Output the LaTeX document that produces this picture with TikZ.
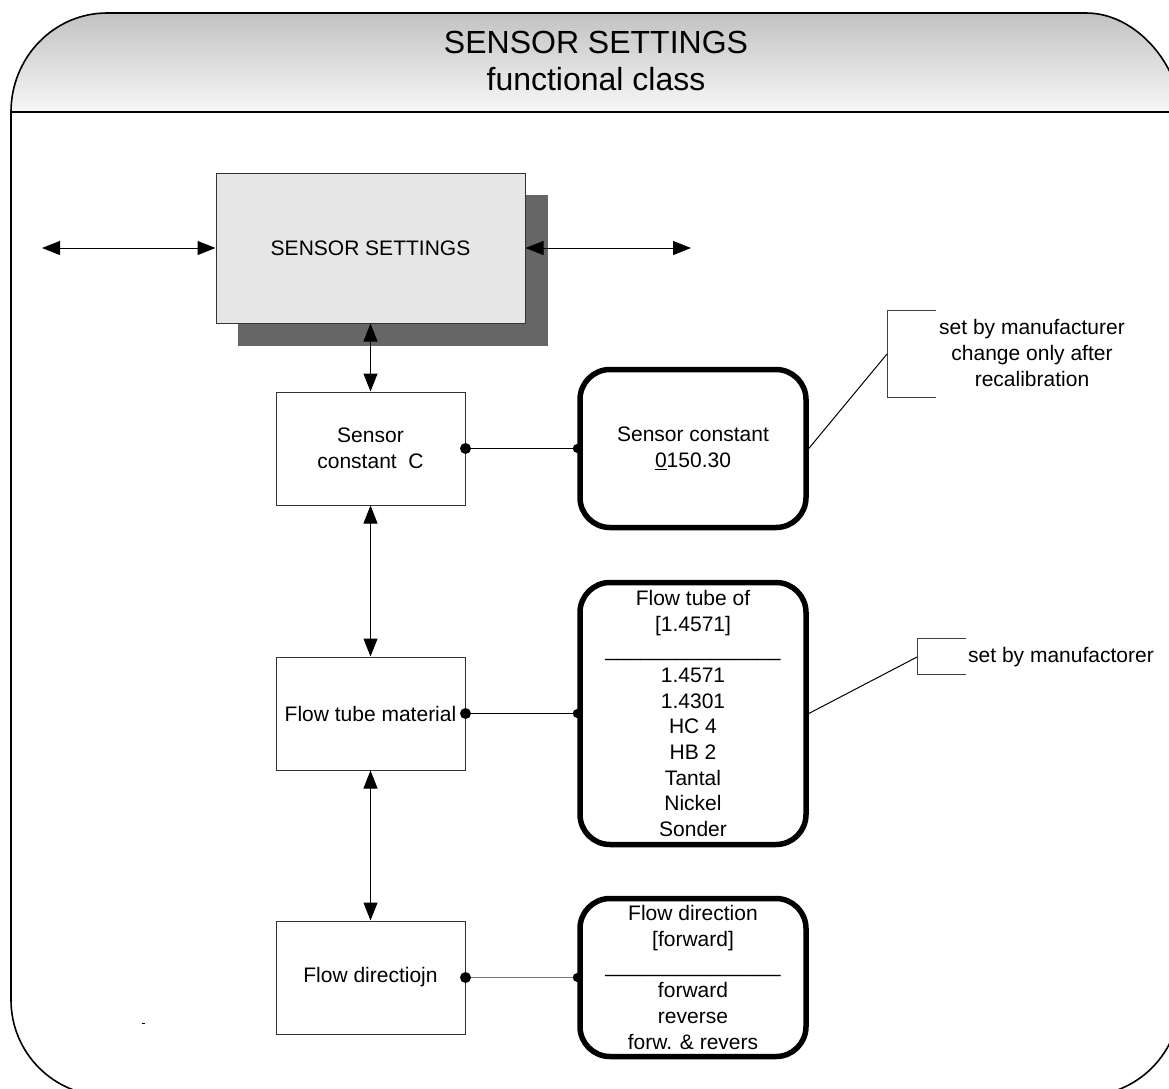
\documentclass[tikz,border=0pt]{standalone}
\usepackage{fontspec}
\setmainfont{Liberation Sans}
\usetikzlibrary{arrows.meta}
\definecolor{shadowc}{HTML}{666666}
\definecolor{boxfill}{HTML}{E6E6E6}
\begin{document}
\begin{tikzpicture}[x=1pt,y=-1pt,
  txt/.style={font=\fontsize{21}{25.7}\selectfont, align=center},
  sqbox/.style={draw=black!80, line width=1pt, fill=white, minimum width=189pt, minimum height=113pt, inner sep=0pt, txt},
  rbox/.style={draw=black, line width=5.5pt, rounded corners=30pt, fill=white, minimum width=226pt, inner sep=0pt, txt},
  dbl/.style={{Triangle[length=18pt,width=14pt]}-{Triangle[length=18pt,width=14pt]}, line width=1pt},
  dotc/.style={fill=black},
  link/.style={line width=1pt},
  note/.style={draw=black!75, line width=1pt},
  frame/.style={draw=black, line width=1.6pt}]
\useasboundingbox (0,0) rectangle (1169,1088);
\begin{scope}
\clip (0,0) rectangle (1169,1088);
% header
\path[top color=black!24, bottom color=black!3]
  (11,112) .. controls (11,57.3) and (54,13) .. (107,13) -- (1086,13)
  .. controls (1137.9,13) and (1180,67.7) .. (1180,112) -- cycle;
\draw[frame] (11,112) .. controls (11,57.3) and (54,13) .. (107,13) -- (1086,13)
  .. controls (1137.9,13) and (1180,67.7) .. (1180,112);
\draw[frame] (11,112) -- (1180,112);
% body outline
\draw[frame] (11,112) -- (11,1000) .. controls (11,1053) and (54,1096) .. (107,1096)
  -- (1084,1096) .. controls (1137,1096) and (1180,1053) .. (1180,1000) -- (1180,112);
\end{scope}
\node[font=\fontsize{32}{38}\selectfont, anchor=base] (title) at (596,53) {SENSOR SETTINGS};
\node[font=\fontsize{32}{38}\selectfont, anchor=base] (subtitle) at (596,90) {functional class};

% main box
\node[draw=black!80, line width=1pt, fill=boxfill, minimum width=309pt, minimum height=150pt, inner sep=0pt, txt] (main) at (370.5,248) {SENSOR SETTINGS};
\fill[shadowc] ([shift={(22,22)}]main.north west) rectangle ([shift={(22,22)}]main.south east);
\node[draw=black!80, line width=1pt, fill=boxfill, minimum width=309pt, minimum height=150pt, inner sep=0pt, txt] at (main) {SENSOR SETTINGS};
\coordinate (lend) at (42,248);
\coordinate (rend) at (691,248);
\draw[dbl] (lend) -- (main.west);
\draw[dbl] (main.east) -- (rend);

% left column
\node[sqbox] (sc) at (370.5,448.5) {Sensor\\constant\ \ C};
\node[sqbox] (ftm) at (370.5,713.5) {Flow tube material};
\node[sqbox] (fd) at (370.5,977.5) {Flow directiojn};
\draw[dbl] (main.south) -- (sc.north);
\draw[dbl] (sc.south) -- (ftm.north);
\draw[dbl] (ftm.south) -- (fd.north);

% right column
\node[rbox, minimum height=158pt] (rb1) at (693,448.5) {Sensor constant\\\underline{0}150.30};
\node[rbox, minimum height=262pt] (rb2) at (693,713.5) {Flow tube of\\{}[1.4571]\\\_\_\_\_\_\_\_\_\_\_\_\_\_\_\_\\1.4571\\1.4301\\HC 4\\HB 2\\Tantal\\Nickel\\Sonder};
\node[rbox, minimum height=158pt] (rb3) at (693,977.5) {Flow direction\\{}[forward]\\\_\_\_\_\_\_\_\_\_\_\_\_\_\_\_\\forward\\reverse\\forw. \& revers};

\draw[link] (sc.east) -- (rb1.west);
\draw[link] (ftm.east) -- (rb2.west);
\draw[link, draw=black!55] (fd.east) -- (rb3.west);
\foreach \n in {sc,ftm,fd} {\fill[dotc] (\n.east) circle (5.5);}
\foreach \n in {rb1,rb2,rb3} {\fill[dotc] (\n.west) circle (4.5);}

% notes
\coordinate (n1a) at (936,310);
\coordinate (n1b) at (936,397);
\coordinate (n1m) at (887,354);
\draw[note] (n1a) -- (887,310) -- (887,397) -- (n1b);
\draw[link] (n1m) -- (rb1.east);
\node[txt] (note1) at (1032,353) {set by manufacturer\\change only after\\recalibration};

\coordinate (n2a) at (966,638);
\coordinate (n2b) at (966,674);
\coordinate (n2m) at (917,657);
\draw[note] (n2a) -- (917,638) -- (917,674) -- (n2b);
\draw[link] (n2m) -- (rb2.east);
\node[txt, anchor=west, inner sep=0pt] (note2) at (968,657) {set by manufactorer};

% stray mark
\fill (142,1022.5) rectangle (145,1023.5);
\end{tikzpicture}
\end{document}
